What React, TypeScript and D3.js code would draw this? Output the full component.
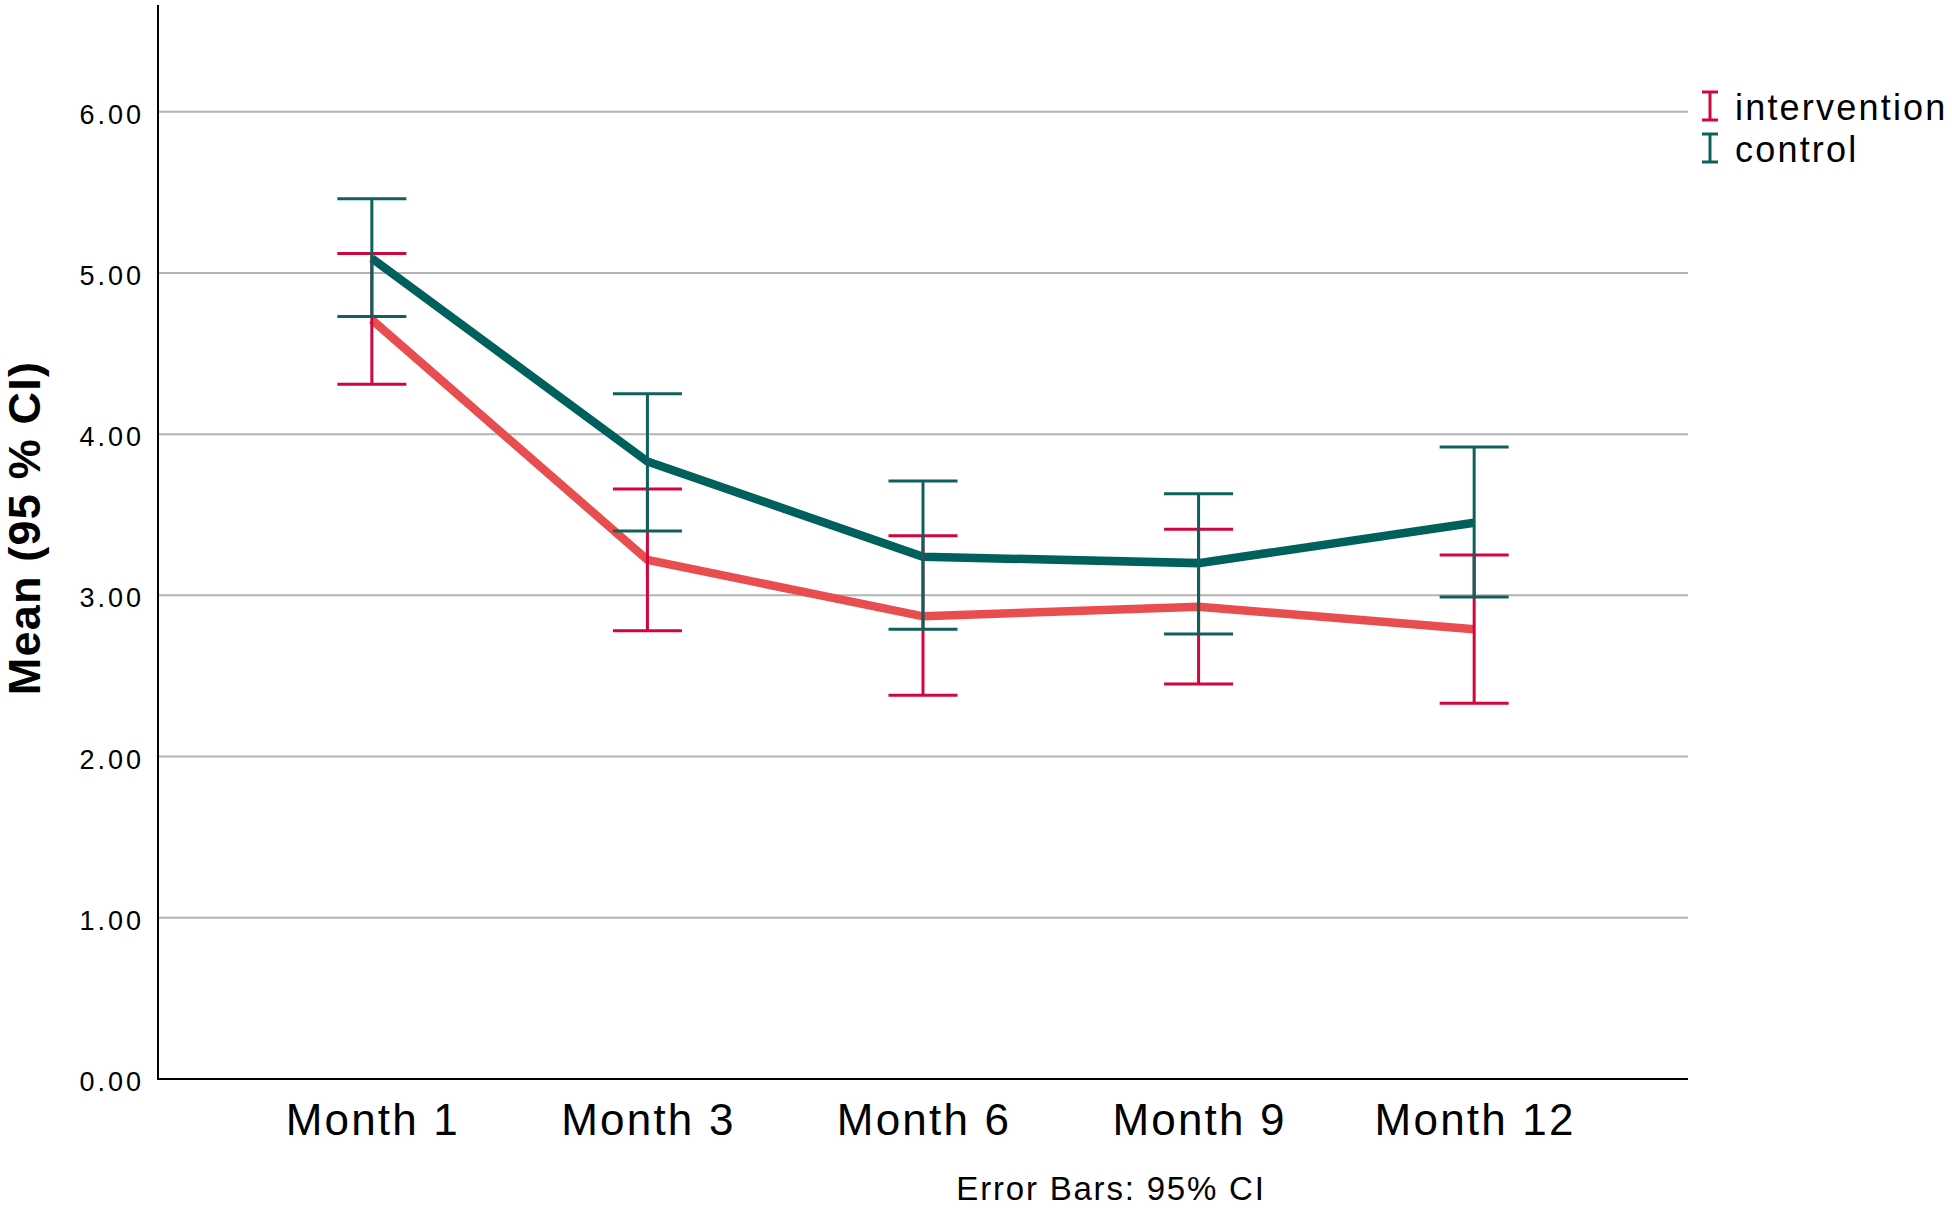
import React from "react";
import * as d3 from "d3";

const months = ["Month 1", "Month 3", "Month 6", "Month 9", "Month 12"];
const interventionMean = [4.71, 3.22, 2.87, 2.93, 2.79];
const interventionLower = [4.31, 2.78, 2.38, 2.45, 2.33];
const interventionUpper = [5.12, 3.66, 3.37, 3.41, 3.25];
const controlMean = [5.09, 3.83, 3.24, 3.2, 3.45];
const controlLower = [4.73, 3.4, 2.79, 2.76, 2.99];
const controlUpper = [5.46, 4.25, 3.71, 3.63, 3.92];
const yTicks = [0, 1, 2, 3, 4, 5, 6];
const seriesNames = ["intervention", "control"];

const W = 1952;
const H = 1209;
const left = 158;
const right = 1688;
const bottom = 1079;
const top = 5;
const FONT = "'Liberation Sans', Arial, sans-serif";

const colors = {
  intervention: { line: "#E84E4F", bar: "#D0063C" },
  control: { line: "#00605C", bar: "#0E605C" },
};

export default function App() {
  const x = d3.scalePoint<string>().domain(months).range([left, right]).padding(0.776);
  const y = d3.scaleLinear().domain([0, 6.662]).range([bottom, top]);
  const fmt = d3.format(".2f");
  const line = d3
    .line<number>()
    .x((_, i) => x(months[i]) as number)
    .y((d) => y(d));

  const series = [
    { name: seriesNames[0], mean: interventionMean, lo: interventionLower, hi: interventionUpper, c: colors.intervention },
    { name: seriesNames[1], mean: controlMean, lo: controlLower, hi: controlUpper, c: colors.control },
  ];
  const capHalf = 34.5;

  return (
    <svg
      width={W}
      height={H}
      style={{ position: "absolute", left: 0, top: 0, background: "#fff" }}
      fontFamily={FONT}
    >
      <rect x={0} y={0} width={W} height={H} fill="#fff" />
      {/* gridlines */}
      {yTicks.filter((t) => t > 0).map((t) => (
        <line key={t} x1={left} x2={right} y1={y(t)} y2={y(t)} stroke="#b3b3b3" strokeWidth={2} />
      ))}
      {/* y tick labels */}
      {yTicks.map((t) => (
        <text
          key={"l" + t}
          x={144}
          y={y(t) + 12}
          textAnchor="end"
          fontSize={27}
          letterSpacing={3}
          fill="#000"
        >
          {fmt(t)}
        </text>
      ))}
      {/* axes */}
      <line x1={left} x2={left} y1={top} y2={bottom + 1} stroke="#000" strokeWidth={2} />
      <line x1={left - 1} x2={right} y1={bottom} y2={bottom} stroke="#000" strokeWidth={2} />
      {/* lines */}
      {series.map((s) => (
        <path key={"p" + s.name} d={line(s.mean) || ""} fill="none" stroke={s.c.line} strokeWidth={8.5} strokeLinejoin="miter" />
      ))}
      {/* error bars */}
      {series.map((s) => (
        <g key={"e" + s.name} stroke={s.c.bar} strokeWidth={3}>
          {months.map((m, i) => {
            const cx = x(m) as number;
            return (
              <g key={m}>
                <line x1={cx} x2={cx} y1={y(s.hi[i])} y2={y(s.lo[i])} />
                <line x1={cx - capHalf} x2={cx + capHalf} y1={y(s.hi[i])} y2={y(s.hi[i])} />
                <line x1={cx - capHalf} x2={cx + capHalf} y1={y(s.lo[i])} y2={y(s.lo[i])} />
              </g>
            );
          })}
        </g>
      ))}
      {/* x tick labels */}
      {months.map((m) => (
        <text key={"x" + m} x={(x(m) as number) + 1} y={1135} textAnchor="middle" fontSize={44} letterSpacing={2.2} fill="#000">
          {m}
        </text>
      ))}
      {/* y title */}
      <text
        transform="translate(40,528) rotate(-90)"
        textAnchor="middle"
        fontSize={45}
        fontWeight="bold"
        letterSpacing={1.2}
        fill="#000"
      >
        Mean (95 % CI)
      </text>
      {/* footnote */}
      <text x={1111} y={1200} textAnchor="middle" fontSize={33} letterSpacing={1.8} fill="#000">
        Error Bars: 95% CI
      </text>
      {/* legend */}
      {series.map((s, i) => {
        const by = 120 + i * 42;
        const sx = 1710;
        return (
          <g key={"lg" + s.name}>
            <g stroke={s.c.bar} strokeWidth={3}>
              <line x1={sx} x2={sx} y1={by - 28} y2={by} />
              <line x1={sx - 8} x2={sx + 8} y1={by - 28} y2={by - 28} />
              <line x1={sx - 8} x2={sx + 8} y1={by} y2={by} />
            </g>
            <text x={1735} y={by} fontSize={36} letterSpacing={2.2} fill="#000">
              {s.name}
            </text>
          </g>
        );
      })}
    </svg>
  );
}
